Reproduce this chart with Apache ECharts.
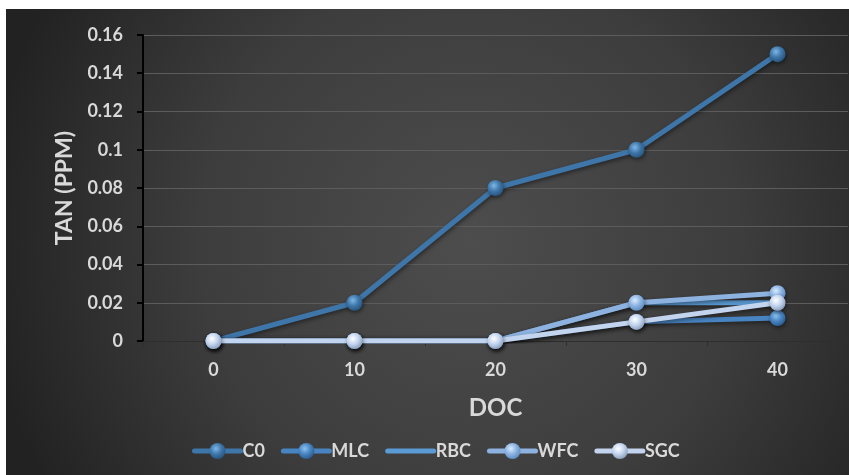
<!DOCTYPE html>
<html>
<head>
<meta charset="utf-8">
<script src="https://cdn.jsdelivr.net/npm/echarts@6/dist/echarts.min.js"></script>
<style>
  html, body { margin: 0; padding: 0; background: #ffffff; }
  #chart { position: absolute; left: 6px; top: 9px; width: 843px; height: 466px; }
</style>
</head>
<body>
<div id="chart"></div>
<script>
// Days of culture (DOC) on the x axis
const categories = ['0', '10', '20', '30', '40'];

// Total ammonia nitrogen (ppm) per treatment
const seriesNames = ['C0', 'MLC', 'RBC', 'WFC', 'SGC'];
const c0  = [0, 0.02, 0.08, 0.10, 0.15];
const mlc = [0, 0, 0, 0.01, 0.012];
const rbc = [0, 0, 0, 0.02, 0.02];
const wfc = [0, 0, 0, 0.02, 0.025];
const sgc = [0, 0, 0, 0.01, 0.02];

const yMin = 0, yMax = 0.16, yStep = 0.02;

// line colour, sphere highlight, sphere edge, show marker
const styles = [
  { line: '#3f76a9', hi: '#7fb6e6', lo: '#285781', marker: true },
  { line: '#4884c1', hi: '#8cc2f0', lo: '#2c5f93', marker: true },
  { line: '#5b9bd5', hi: '#9cc9f0', lo: '#3c77ad', marker: false },
  { line: '#8db2e0', hi: '#d6ecff', lo: '#5f8fc4', marker: true },
  { line: '#c3d4ee', hi: '#ffffff', lo: '#8ea3bf', marker: true }
];
const values = [c0, mlc, rbc, wfc, sgc];

const font = 'Lato, "Open Sans", sans-serif';
const textColor = '#d9d9d9';

function sphere(s) {
  return {
    type: 'radial', x: 0.4, y: 0.35, r: 0.65,
    colorStops: [
      { offset: 0, color: s.hi },
      { offset: 0.55, color: s.line },
      { offset: 1, color: s.lo }
    ]
  };
}

const series = seriesNames.map((name, i) => {
  const s = styles[i];
  return {
    name: name,
    type: 'line',
    data: values[i],
    symbol: s.marker ? 'circle' : 'none',
    symbolSize: 16,
    showSymbol: s.marker,
    z: 2 + i,
    lineStyle: {
      color: s.line, width: 5,
      shadowColor: 'rgba(0,0,0,0.45)', shadowBlur: 4, shadowOffsetX: 1, shadowOffsetY: 2
    },
    itemStyle: {
      color: sphere(s), borderWidth: 0,
      shadowColor: 'rgba(0,0,0,0.45)', shadowBlur: 4, shadowOffsetX: 1, shadowOffsetY: 2
    },
    emphasis: { disabled: true }
  };
});

// legend entries: thick line with a sphere, plain line for the marker-less series
const legendData = seriesNames.map((name, i) => {
  const s = styles[i];
  const item = {
    name: name,
    itemStyle: { color: sphere(s), borderWidth: 0 }
  };
  if (!s.marker) item.itemStyle.opacity = 0;
  return item;
});

const chart = echarts.init(document.getElementById('chart'), null, { renderer: 'canvas' });
chart.setOption({
  animation: false,
  backgroundColor: {
    type: 'radial', x: 0.55, y: 0.5, r: 1.05,
    colorStops: [
      { offset: 0, color: '#4d4d4d' },
      { offset: 0.55, color: '#3d3d3d' },
      { offset: 1, color: '#222222' }
    ]
  },
  grid: { left: 137, right: 1, top: 26, bottom: 134, containLabel: false },
  legend: {
    data: legendData,
    bottom: 10,
    left: 181,
    itemWidth: 46,
    itemHeight: 20,
    itemGap: 16,
    lineStyle: { width: 5, cap: 'round' },
    textStyle: { color: textColor, fontFamily: font, fontWeight: 'bold', fontSize: 18, padding: [0, 0, 0, -3] }
  },
  xAxis: {
    type: 'category',
    data: categories,
    boundaryGap: true,
    name: 'DOC',
    nameLocation: 'middle',
    nameGap: 55,
    nameTextStyle: { color: textColor, fontFamily: font, fontWeight: 'bold', fontSize: 24 },
    axisLine: { show: true, lineStyle: { color: '#2e2e2e', width: 1 } },
    axisTick: { show: true, length: 5, lineStyle: { color: '#2e2e2e' } },
    axisLabel: { color: textColor, fontFamily: font, fontWeight: 'bold', fontSize: 18, margin: 20 },
    splitLine: { show: false }
  },
  yAxis: {
    type: 'value',
    min: yMin, max: yMax, interval: yStep,
    name: 'TAN (PPM)',
    nameLocation: 'middle',
    nameGap: 64,
    nameRotate: 90,
    nameTextStyle: { color: textColor, fontFamily: font, fontWeight: 'bold', fontSize: 23 },
    axisLine: { show: true, lineStyle: { color: '#000000', width: 2 } },
    axisTick: { show: true, length: 6, lineStyle: { color: '#000000', width: 2 } },
    axisLabel: {
      color: textColor, fontFamily: font, fontWeight: 'bold', fontSize: 18, margin: 20,
      formatter: v => String(Math.round(v * 100) / 100)
    },
    splitLine: { show: true, lineStyle: { color: '#5c5c5c', width: 1 } }
  },
  series: series
});
</script>
</body>
</html>
